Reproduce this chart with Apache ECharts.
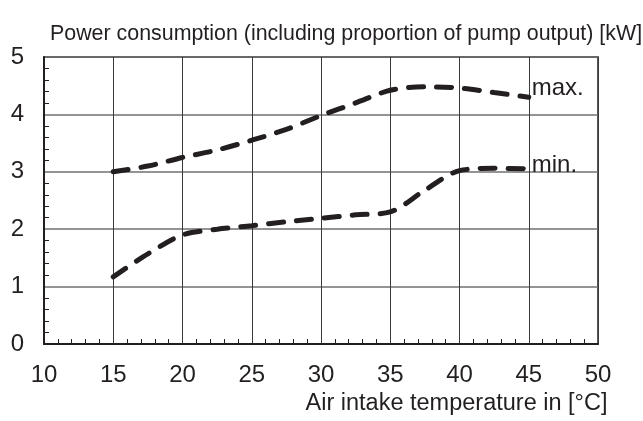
<!DOCTYPE html>
<html>
<head>
<meta charset="utf-8">
<script src="https://cdn.jsdelivr.net/npm/echarts@6/dist/echarts.min.js"></script>
<style>
  html, body { margin: 0; padding: 0; background: #fff; }
  #chart { width: 643px; height: 421px; }
</style>
</head>
<body>
<div id="chart"></div>
<script>
// Air intake temperature [°C] at which the curves are sampled
const temperatures = [15, 17.5, 20, 22.5, 25, 27.5, 30, 32.5, 35, 37.5, 40, 42.5, 45];
// Power consumption [kW], upper curve
const maxPower = [3.0, 3.1, 3.25, 3.38, 3.55, 3.74, 3.98, 4.2, 4.42, 4.48, 4.46, 4.38, 4.3];
// Power consumption [kW], lower curve
const minPower = [1.17, 1.57, 1.9, 2.0, 2.06, 2.13, 2.19, 2.25, 2.3, 2.68, 3.02, 3.06, 3.05];
// Curve end labels
const curveNames = ['max.', 'min.'];

const INK = '#231f20';
const FONT = '"Liberation Sans", Arial, sans-serif';

function pairs(xs, ys) {
  return xs.map((x, i) => [x, ys[i]]);
}

function curve(name, values, labelOffset) {
  return {
    type: 'line',
    name: name,
    data: pairs(temperatures, values),
    smooth: 0.3,
    symbol: 'none',
    lineStyle: { color: INK, width: 5, type: [15, 13], cap: 'round' },
    endLabel: {
      show: true,
      formatter: name,
      color: INK,
      fontFamily: FONT,
      fontSize: 24,
      distance: 3,
      offset: labelOffset
    },
    z: 5
  };
}

const chart = echarts.init(document.getElementById('chart'), null, { renderer: 'canvas' });
chart.setOption({
  animation: false,
  backgroundColor: '#fff',
  title: [
    {
      text: 'Power consumption (including proportion of pump output) [kW]',
      left: 50,
      top: 23.5,
      padding: 0,
      textStyle: { color: INK, fontFamily: FONT, fontSize: 21.4, fontWeight: 'normal' }
    },
    {
      text: 'Air intake temperature in [°C]',
      right: 35.5,
      top: 392,
      padding: 0,
      textStyle: { color: INK, fontFamily: FONT, fontSize: 23.5, fontWeight: 'normal' }
    }
  ],
  grid: {
    left: 44, right: 45, top: 57, bottom: 77,
    show: true, borderColor: INK, borderWidth: 1.5, backgroundColor: 'transparent'
  },
  xAxis: {
    type: 'value',
    min: 10, max: 50, interval: 5,
    axisLine: { show: true, onZero: false, lineStyle: { color: INK, width: 2 } },
    axisTick: { show: false, inside: true },
    minorTick: { show: true, splitNumber: 5, length: 5, lineStyle: { color: INK, width: 1 } },
    splitLine: { show: true, lineStyle: { color: '#3a3a3a', width: 1 } },
    axisLabel: { color: INK, fontFamily: FONT, fontSize: 24, margin: 19 }
  },
  yAxis: {
    type: 'value',
    min: 0, max: 5, interval: 1,
    axisLine: { show: true, onZero: false, lineStyle: { color: INK, width: 2 } },
    axisTick: { show: false, inside: true },
    minorTick: { show: true, splitNumber: 5, length: 5, lineStyle: { color: INK, width: 1 } },
    splitLine: { show: true, lineStyle: { color: '#707070', width: 1.5 } },
    axisLabel: { color: INK, fontFamily: FONT, fontSize: 24, margin: 20 }
  },
  series: [
    curve(curveNames[0], maxPower, [0, -9]),
    curve(curveNames[1], minPower, [0, -4])
  ]
});
</script>
</body>
</html>
